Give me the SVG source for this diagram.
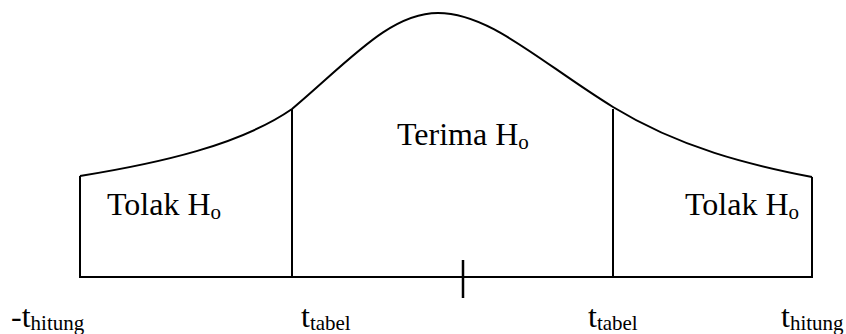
<svg xmlns="http://www.w3.org/2000/svg" width="846" height="334" viewBox="0 0 846 334">
<style>
.ln{fill:none;stroke:#000;stroke-width:2}
.t{font-size:32px;fill:#000}
.s{font-size:21px}
</style>
<rect width="846" height="334" fill="#fff"/>
<g id="curve">
<path class="ln" d="M80,176 C160,163 240,145 292,109 C350,60 390,13 438,13 C490,13 540,62 613,107 C680,148 750,165 812,177"/>
</g>
<g id="axes">
<path class="ln" d="M80,176 V277 H812 V177"/>
<path class="ln" d="M292,109 V277"/>
<path class="ln" d="M613,109 V277"/>
<path class="ln" d="M463,260 V298" style="stroke-width:2.5"/>
</g>
<g id="labels" font-family="Liberation Serif, Times New Roman, serif">
<text class="t" x="107" y="215">Tolak H<tspan class="s" dy="4">o</tspan></text>
<text class="t" x="397" y="145">Terima H<tspan class="s" dy="4">o</tspan></text>
<text class="t" x="685" y="215">Tolak H<tspan class="s" dy="4">o</tspan></text>
<text class="t" x="11" y="327">-t<tspan class="s" dy="3">hitung</tspan></text>
<text class="t" x="301" y="327">t<tspan class="s" dy="3">tabel</tspan></text>
<text class="t" x="588" y="327">t<tspan class="s" dy="3">tabel</tspan></text>
<text class="t" x="781" y="327">t<tspan class="s" dy="3">hitung</tspan></text>
</g>
</svg>
